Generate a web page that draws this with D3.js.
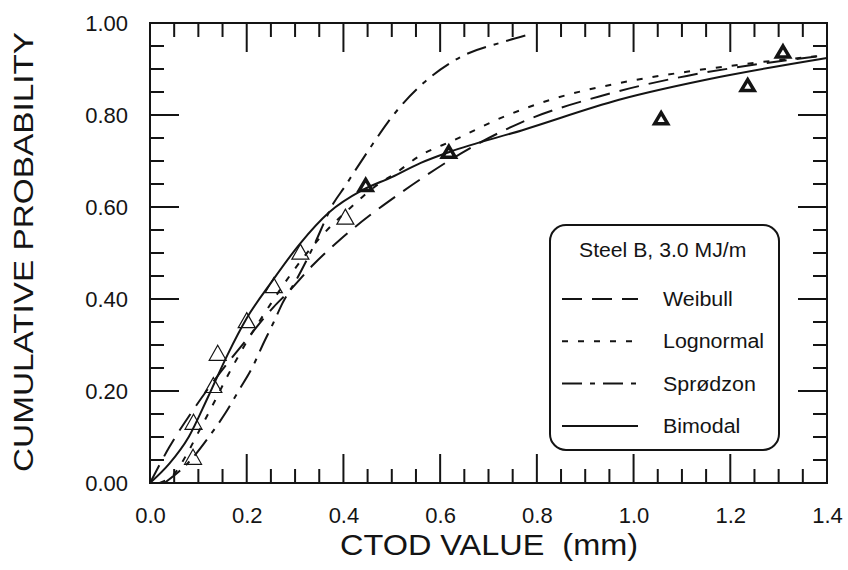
<!DOCTYPE html>
<html>
<head>
<meta charset="utf-8">
<script src="https://cdn.jsdelivr.net/npm/d3@7"></script>
<style>
  html, body { margin: 0; padding: 0; background: #fff; }
  svg { display: block; font-family: "Liberation Sans", Arial, sans-serif; }
</style>
</head>
<body>
<svg id="chart" width="848" height="570"></svg>
<script>
// Fitted distribution curves, [CTOD (mm), cumulative probability]
const weibull = [
  [0.00, 0.000], [0.04, 0.078], [0.094, 0.166], [0.135, 0.226], [0.20, 0.312],
  [0.256, 0.383], [0.284, 0.413], [0.338, 0.475], [0.394, 0.530], [0.456, 0.583],
  [0.512, 0.626], [0.566, 0.665], [0.628, 0.707], [0.766, 0.783], [0.938, 0.843],
  [1.11, 0.885], [1.248, 0.909], [1.40, 0.930]
];
const lognormal = [
  [0.02, 0.000], [0.05, 0.020], [0.08, 0.070], [0.10, 0.110], [0.13, 0.170],
  [0.16, 0.232], [0.20, 0.307], [0.25, 0.390], [0.29, 0.452], [0.353, 0.535],
  [0.414, 0.598], [0.47, 0.648], [0.507, 0.673], [0.559, 0.712], [0.628, 0.745],
  [0.731, 0.796], [0.834, 0.835], [0.973, 0.870], [1.11, 0.894], [1.248, 0.913],
  [1.40, 0.930]
];
const sprodzon = [
  [0.03, 0.000], [0.08, 0.045], [0.125, 0.105], [0.156, 0.152], [0.183, 0.200],
  [0.212, 0.252], [0.233, 0.300], [0.256, 0.350], [0.274, 0.391], [0.305, 0.446],
  [0.336, 0.510], [0.38, 0.609], [0.404, 0.646], [0.421, 0.674], [0.462, 0.739],
  [0.491, 0.783], [0.524, 0.826], [0.566, 0.870], [0.642, 0.926], [0.731, 0.959],
  [0.78, 0.974]
];
const bimodal = [
  [0.00, 0.000], [0.04, 0.042], [0.08, 0.100], [0.12, 0.187], [0.16, 0.278],
  [0.20, 0.358], [0.25, 0.435], [0.31, 0.520], [0.37, 0.588], [0.44, 0.637],
  [0.50, 0.665], [0.56, 0.696], [0.62, 0.720], [0.77, 0.767], [0.97, 0.833],
  [1.18, 0.883], [1.40, 0.924]
];

// Measured CTOD values (open: lower group, bold: upper group)
const openCtod = [0.089, 0.090, 0.131, 0.140, 0.200, 0.256, 0.311, 0.404];
const openProb = [0.057, 0.133, 0.213, 0.283, 0.354, 0.430, 0.503, 0.579];
const boldCtod = [0.446, 0.618, 1.057, 1.236, 1.309];
const boldProb = [0.648, 0.720, 0.793, 0.865, 0.938];

const xMajorTicks = [0, 0.2, 0.4, 0.6, 0.8, 1.0, 1.2, 1.4];
const yMajorTicks = [0, 0.2, 0.4, 0.6, 0.8, 1.0];

const legendTitle = "Steel B, 3.0 MJ/m";
const seriesNames = ["Weibull", "Lognormal", "Sprødzon", "Bimodal"];

const svg = d3.select("#chart");
const x = d3.scaleLinear().domain([0, 1.4]).range([150, 827]);
const y = d3.scaleLinear().domain([0, 1.0]).range([483, 23]);

const ink = "#141414";

// Stretch text horizontally to a given factor of its natural width
function stretch(sel, k) {
  sel.each(function() {
    const w = this.getComputedTextLength();
    d3.select(this).attr("textLength", w * k).attr("lengthAdjust", "spacingAndGlyphs");
  });
}

// Inward ticks on all four sides
const minorX = d3.range(0, 1.4001, 0.05);
const minorY = d3.range(0, 1.0001, 0.05);
const isMajor = v => Math.abs(v / 0.2 - Math.round(v / 0.2)) < 1e-6;
const majLen = 29, minLen = 14;

const ticks = svg.append("g").attr("stroke", ink).attr("stroke-width", 2);
minorX.forEach(v => {
  const L = isMajor(v) ? majLen : minLen;
  ticks.append("line").attr("x1", x(v)).attr("x2", x(v)).attr("y1", y(0)).attr("y2", y(0) - L);
  ticks.append("line").attr("x1", x(v)).attr("x2", x(v)).attr("y1", y(1)).attr("y2", y(1) + L);
});
minorY.forEach(v => {
  const L = isMajor(v) ? majLen : minLen;
  ticks.append("line").attr("y1", y(v)).attr("y2", y(v)).attr("x1", x(0)).attr("x2", x(0) + L);
  ticks.append("line").attr("y1", y(v)).attr("y2", y(v)).attr("x1", x(1.4)).attr("x2", x(1.4) - L);
});

// Frame
svg.append("rect")
  .attr("x", x(0)).attr("y", y(1))
  .attr("width", x(1.4) - x(0)).attr("height", y(0) - y(1))
  .attr("fill", "none").attr("stroke", ink).attr("stroke-width", 2);

// Axis tick labels (drawn through d3 axes, styled afterwards)
const xAxis = svg.append("g").attr("transform", `translate(0,${y(0)})`)
  .call(d3.axisBottom(x).tickValues(xMajorTicks).tickFormat(d3.format(".1f")).tickSize(0).tickPadding(40));
xAxis.select(".domain").remove();
xAxis.selectAll("text").attr("font-size", 22).attr("fill", ink).attr("dy", 0)
  .attr("y", 40).attr("font-family", "Liberation Sans, Arial, sans-serif");

const yAxis = svg.append("g").attr("transform", `translate(${x(0)},0)`)
  .call(d3.axisLeft(y).tickValues(yMajorTicks).tickFormat(d3.format(".2f")).tickSize(0).tickPadding(22));
yAxis.select(".domain").remove();
yAxis.selectAll("text").attr("font-size", 22).attr("fill", ink).attr("dy", "0.36em")
  .attr("font-family", "Liberation Sans, Arial, sans-serif");

// Axis titles
svg.append("text")
  .attr("x", 489).attr("y", 555)
  .attr("text-anchor", "middle").attr("font-size", 29).attr("fill", ink)
  .attr("xml:space", "preserve").style("white-space", "pre")
  .attr("textLength", 298).attr("lengthAdjust", "spacingAndGlyphs")
  .text("CTOD VALUE\u00a0\u00a0(mm)");

svg.append("text")
  .attr("transform", "translate(33,252) rotate(-90)")
  .attr("text-anchor", "middle").attr("font-size", 28).attr("fill", ink)
  .attr("textLength", 440).attr("lengthAdjust", "spacingAndGlyphs")
  .text("CUMULATIVE PROBABILITY");

// Curves
const line = d3.line().x(d => x(d[0])).y(d => y(d[1])).curve(d3.curveMonotoneX);
const styles = [
  { data: weibull, dash: "20,10" },
  { data: lognormal, dash: "6,10" },
  { data: sprodzon, dash: "20,8,5,8" },
  { data: bimodal, dash: null }
];
const curves = svg.append("g").attr("fill", "none").attr("stroke", ink).attr("stroke-width", 2);
styles.forEach(s => {
  curves.append("path").attr("d", line(s.data)).attr("stroke-dasharray", s.dash);
});

// Triangle markers
function tri(w, h) {
  return `M0,${-h / 2}L${w / 2},${h / 2}L${-w / 2},${h / 2}Z`;
}
svg.append("g").selectAll("path")
  .data(d3.zip(openCtod, openProb))
  .join("path")
  .attr("transform", d => `translate(${x(d[0])},${y(d[1])})`)
  .attr("d", tri(17, 15))
  .attr("fill", "none").attr("stroke", ink).attr("stroke-width", 1.2);

svg.append("g").selectAll("path")
  .data(d3.zip(boldCtod, boldProb))
  .join("path")
  .attr("transform", d => `translate(${x(d[0])},${y(d[1])})`)
  .attr("d", tri(13, 11))
  .attr("fill", "none").attr("stroke", ink).attr("stroke-width", 3.5)
  .attr("stroke-linejoin", "miter");

// Legend
const lg = svg.append("g");
lg.append("rect")
  .attr("x", 550).attr("y", 225).attr("width", 229).attr("height", 225).attr("rx", 16)
  .attr("fill", "#fff").attr("stroke", ink).attr("stroke-width", 2);
lg.append("text")
  .attr("x", 579).attr("y", 257).attr("font-size", 20).attr("fill", ink)
  .text(legendTitle).call(stretch, 1.06);
seriesNames.forEach((name, i) => {
  const by = 306 + i * 42.3;
  lg.append("line")
    .attr("x1", 562).attr("x2", 638).attr("y1", by - 7).attr("y2", by - 7)
    .attr("stroke", ink).attr("stroke-width", 2)
    .attr("stroke-dasharray", styles[i].dash);
  lg.append("text")
    .attr("x", 663).attr("y", by).attr("font-size", 20).attr("fill", ink)
    .text(name).call(stretch, 1.07);
});
</script>
</body>
</html>
